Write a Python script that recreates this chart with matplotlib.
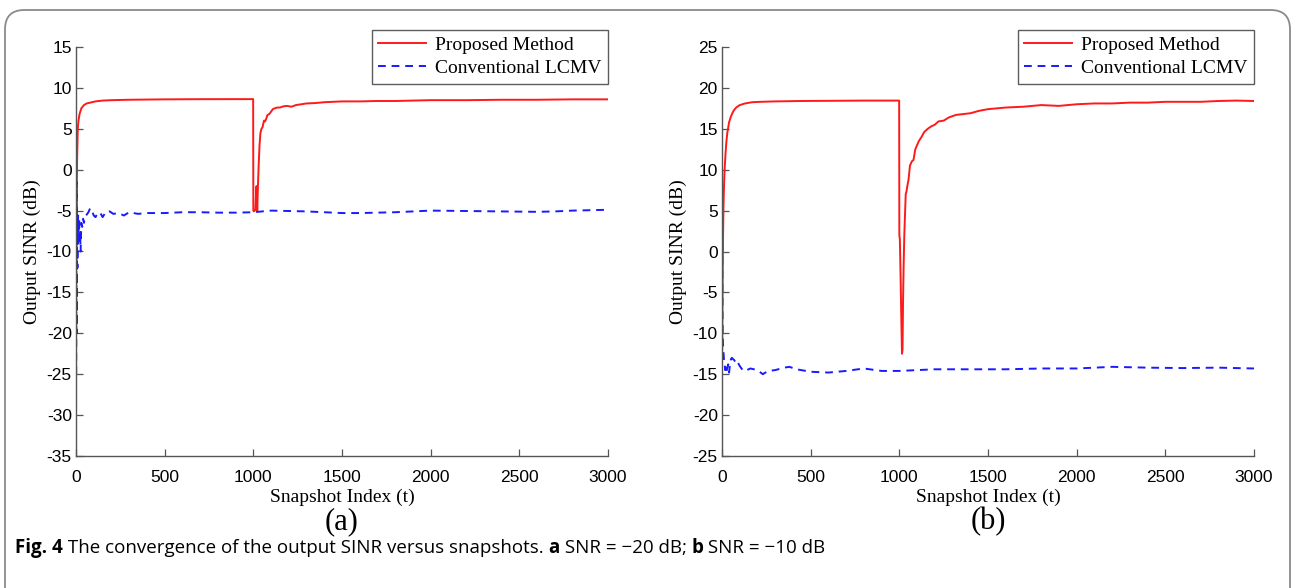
import matplotlib
matplotlib.use("Agg")
import matplotlib.pyplot as plt
from matplotlib.patches import FancyBboxPatch

# ---- (a) SNR = -20 dB ----
a_prop_t = [1, 2, 3, 4, 5, 6, 8, 10, 14, 20, 30, 45, 60, 80, 110, 150, 200, 300, 500, 700, 999,
            1000, 1003, 1008, 1012, 1015, 1018, 1022, 1026, 1030, 1035, 1040, 1046, 1052, 1060,
            1066, 1072, 1080, 1090, 1100, 1110, 1120, 1135, 1150, 1170, 1190, 1215, 1240, 1270,
            1300, 1350, 1400, 1450, 1500, 1600, 1700, 1800, 1900, 2000, 2200, 2400, 2600, 2800, 3000]
a_prop_v = [-10, -6, -9, -4, -1, 1, 3, 5, 6, 6.8, 7.5, 7.9, 8.1, 8.2, 8.35, 8.45, 8.5, 8.55, 8.6, 8.62, 8.63,
            -5.0, -5.1, -5.0, -4.9, -3.0, -2.0, -5.0, -2.0, 0.5, 3.0, 4.5, 5.0, 5.2, 6.0,
            5.9, 6.2, 6.7, 6.8, 7.1, 7.4, 7.5, 7.6, 7.6, 7.75, 7.8, 7.7, 7.9, 8.0,
            8.1, 8.15, 8.25, 8.3, 8.35, 8.35, 8.4, 8.4, 8.45, 8.5, 8.5, 8.55, 8.55, 8.6, 8.6]

a_conv_t = [1, 2, 3, 4, 5, 6, 7, 8, 9, 10, 12, 14, 16, 18, 20, 23, 26, 30, 35, 40, 45, 50, 60, 70,
            80, 90, 100, 110, 120, 135, 150, 170, 190, 210, 240, 270, 300, 350, 400, 500, 600,
            700, 800, 900, 1000, 1100, 1200, 1300, 1400, 1500, 1600, 1700, 1800, 1900, 2000,
            2200, 2400, 2600, 2700, 2800, 2900, 3000]
a_conv_v = [-25, -15, -4, -1.5, -20, -10, -6, -12, -7, -9, -5.5, -8.5, -7, -6, -9, -7.5, -10, -6.5, -7, -6, -6.5, -5.8, -5.5, -5.2,
            -4.7, -5.0, -5.6, -5.8, -5.4, -5.2, -5.8, -5.1, -5.1, -5.4, -5.3, -5.6, -5.2, -5.4, -5.3, -5.3, -5.2,
            -5.2, -5.25, -5.25, -5.2, -5.0, -5.05, -5.1, -5.2, -5.3, -5.3, -5.25, -5.2, -5.1, -5.0,
            -5.05, -5.1, -5.15, -5.1, -5.0, -4.95, -4.9]

# ---- (b) SNR = -10 dB ----
b_prop_t = [1, 2, 3, 4, 5, 6, 8, 10, 13, 16, 20, 25, 30, 40, 50, 65, 80, 100, 130, 170, 220, 300, 450, 600, 800, 999,
            1000, 1003, 1007, 1011, 1015, 1018, 1021, 1024, 1028, 1032, 1036, 1040, 1045, 1052, 1060,
            1070, 1080, 1090, 1100, 1110, 1125, 1140, 1160, 1180, 1200, 1220, 1250, 1280, 1320, 1360,
            1400, 1450, 1500, 1550, 1600, 1700, 1800, 1900, 2000, 2100, 2200, 2300, 2400, 2500, 2600,
            2700, 2800, 2900, 3000]
b_prop_v = [-12, -8, -5, -2, 0, 2, 5, 7, 9, 10.5, 12, 13.5, 14.5, 15.8, 16.5, 17.2, 17.6, 17.9, 18.1, 18.25, 18.3, 18.35, 18.4, 18.42, 18.45, 18.45,
            2.0, 1.5, -3, -8, -12.5, -12.0, -6, -2, 2, 4.5, 7.0, 7.3, 8.0, 8.8, 10.5,
            11.0, 11.2, 12.5, 13.0, 13.5, 14.0, 14.6, 15.0, 15.3, 15.5, 15.9, 16.0, 16.4, 16.7, 16.8,
            16.9, 17.2, 17.4, 17.5, 17.6, 17.7, 17.9, 17.8, 18.0, 18.1, 18.1, 18.2, 18.2, 18.3, 18.3,
            18.3, 18.4, 18.45, 18.4]

b_conv_t = [1, 2, 3, 4, 5, 7, 9, 12, 15, 18, 22, 26, 30, 35, 40, 45, 50, 55, 60, 70, 80, 90, 100, 110, 120,
            140, 160, 180, 200, 230, 260, 300, 350, 380, 420, 500, 600, 700, 800, 900, 1000, 1200,
            1400, 1600, 1800, 2000, 2200, 2400, 2600, 2800, 3000]
b_conv_v = [1.0, -4, -8, -10, -11, -12, -12.5, -13.5, -13.8, -14.5, -14.0, -14.6, -14.2, -13.8, -14.8, -13.8, -13.2, -13.0, -13.1, -13.3, -13.8, -13.6, -14.0, -14.3, -14.6,
            -14.5, -14.3, -14.4, -14.5, -15.0, -14.6, -14.5, -14.2, -14.1, -14.4, -14.7, -14.8, -14.6, -14.3, -14.6, -14.6, -14.4,
            -14.4, -14.4, -14.3, -14.3, -14.1, -14.2, -14.25, -14.2, -14.3]

XTICKS = [0, 500, 1000, 1500, 2000, 2500, 3000]
A_YTICKS = [-35, -30, -25, -20, -15, -10, -5, 0, 5, 10, 15]
B_YTICKS = [-25, -20, -15, -10, -5, 0, 5, 10, 15, 20, 25]

SERIF = ["Liberation Serif", "DejaVu Serif"]
SANS = ["Liberation Sans", "DejaVu Sans"]
CAP = ["Open Sans", "DejaVu Sans"]

plt.rcParams["font.family"] = SANS
plt.rcParams["axes.unicode_minus"] = False

W, H = 1291, 588
fig = plt.figure(figsize=(W / 100, H / 100), dpi=100)

# Rounded frame around the whole figure (bottom edge runs off the canvas)
frame = FancyBboxPatch((5 / W, -0.2), 1285 / W, (588 - 10) / H + 0.2,
                       boxstyle="round,pad=0,rounding_size=0.015",
                       transform=fig.transFigure, fill=False,
                       edgecolor="#8a8a8a", linewidth=1.3, mutation_aspect=W / H)
fig.patches.append(frame)


def panel(left_px, yticks, prop_t, prop_v, conv_t, conv_v, tag):
    ax = fig.add_axes([left_px / W, 1 - 456 / H, 532 / W, 409 / H])
    ax.plot(prop_t, prop_v, color="#ff1a1a", lw=1.4, label="Proposed Method")
    ax.plot(conv_t, conv_v, color="#1a1aff", lw=1.4, ls=(0, (4, 3)), label="Conventional LCMV")
    ax.set_xlim(0, 3000)
    ax.set_ylim(yticks[0], yticks[-1])
    ax.set_xticks(XTICKS)
    ax.set_yticks(yticks)
    for s in ("top", "right"):
        ax.spines[s].set_visible(False)
    for s in ("left", "bottom"):
        ax.spines[s].set_color("#555555")
        ax.spines[s].set_linewidth(1.0)
    ax.tick_params(direction="in", length=5, width=0.9, color="#555555", labelsize=12.5)
    ax.tick_params(axis="x", pad=10)
    ax.tick_params(axis="y", pad=3)
    ax.set_xlabel("Snapshot Index (t)", family=SERIF, fontsize=14, labelpad=3)
    ax.set_ylabel("Output SINR (dB)", family=SERIF, fontsize=14, labelpad=4)
    leg = ax.legend(loc="upper right", bbox_to_anchor=(1.0, 1.042), prop={"family": SERIF, "size": 14},
                    frameon=True, fancybox=False, edgecolor="#333333",
                    handlelength=2.45, handletextpad=0.45, borderpad=0.35, labelspacing=0.25,
                    borderaxespad=0)
    leg.get_frame().set_linewidth(1.0)
    fig.text((left_px + 266) / W, 1 - 522 / H, tag, family=SERIF, fontsize=22,
             ha="center", va="center")
    return ax


panel(76, A_YTICKS, a_prop_t, a_prop_v, a_conv_t, a_conv_v, "(a)")
panel(722, B_YTICKS, b_prop_t, b_prop_v, b_conv_t, b_conv_v, "(b)")

# Caption
cap_y = 1 - 548 / H
cap_size = 13.5
fig.canvas.draw()
r = fig.canvas.get_renderer()
parts = [("Fig. 4", "bold"), (" The convergence of the output SINR versus snapshots. ", "normal"),
         ("a", "bold"), (" SNR = \u221220 dB; ", "normal"), ("b", "bold"),
         (" SNR = \u221210 dB", "normal")]
x = 15
for txt, wt in parts:
    t = fig.text(x / W, cap_y, txt, family=CAP, fontweight=wt, fontsize=cap_size, va="center")
    x = t.get_window_extent(r).x1

fig.savefig("out.png", dpi=100)
